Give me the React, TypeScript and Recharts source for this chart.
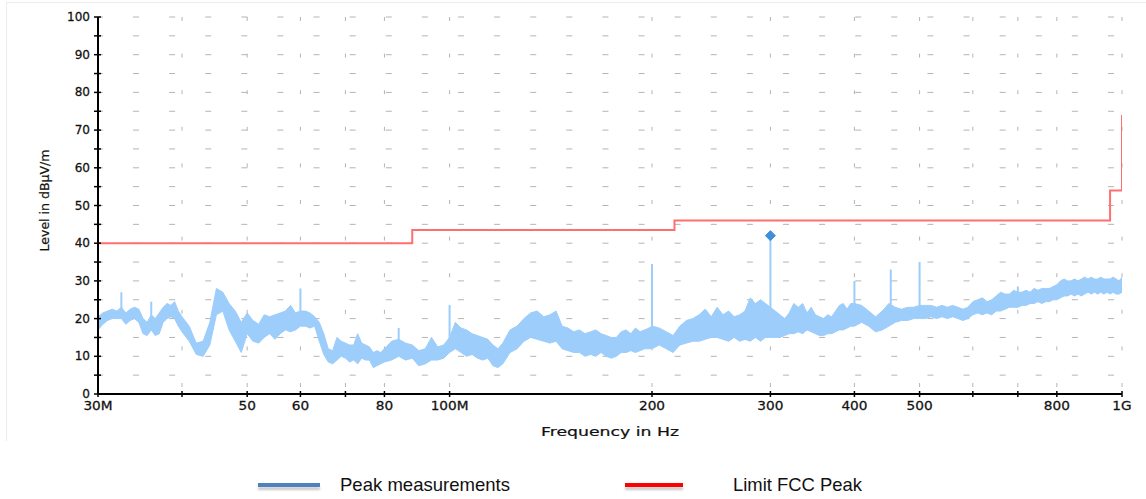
import React from 'react';
import { ComposedChart, Area, Line, Scatter, XAxis, YAxis, CartesianGrid } from 'recharts';

const peakFreqs = [
  30, 30.5, 31, 31.5, 32, 32.5, 33, 33.5, 34, 34.5, 35, 35.5, 36, 36.5, 37, 37.5, 38, 38.5, 39, 39.5, 40,
  41, 42, 43, 44, 45, 46, 47, 48, 49, 50, 51, 52, 53, 54, 55, 56, 57, 58, 59, 60,
  61, 62, 63, 64, 65, 66, 67, 68, 69, 70, 71, 72, 73, 74, 75, 76, 77, 78, 79, 80,
  82, 84, 86, 88, 90, 92, 94, 96, 98, 100, 102, 104, 106, 108, 110, 112, 114, 116, 118, 120,
  123, 126, 129, 132, 135, 138, 141, 144, 147, 150, 153, 156, 159, 162, 165, 168, 171, 174, 177, 180,
  183, 186, 189, 192, 195, 198, 200,
  205, 210, 215, 220, 225, 230, 235, 240, 245, 250, 255, 260, 265, 270, 275, 280, 285, 290, 295, 300,
  305, 310, 315, 320, 325, 330, 335, 340, 345, 350, 355, 360, 365, 370, 375, 380, 385, 390, 395, 400,
  410, 420, 430, 440, 450, 460, 470, 480, 490, 500, 510, 520, 530, 540, 550, 560, 570, 580, 590, 600,
  610, 620, 630, 640, 650, 660, 670, 680, 690, 700, 710, 720, 730, 740, 750, 760, 770, 780, 790, 800,
  810, 820, 830, 840, 850, 860, 870, 880, 890, 900, 910, 920, 930, 940, 950, 960, 970, 980, 990, 1000,
];
const peakLow = [
  17, 18.5, 19.5, 20, 20, 20, 18.5, 19.5, 20, 19, 16, 15.5, 17, 15.5, 16, 19, 20, 20.5, 20, 18, 16.5,
  14, 10.5, 10, 13, 21, 22, 17, 14, 11, 16, 14, 13.5, 15, 16, 14.5, 16, 17, 16.5, 17, 18,
  18, 17.5, 18, 14, 10.5, 8.5, 8, 9, 10, 9.5, 8.5, 9, 8, 9.5, 9, 9, 7, 7.5, 8, 8.5,
  9, 10, 9, 9.5, 7.5, 8, 9, 9, 9.5, 11, 12, 11, 10, 10.5, 9.5, 9, 9.5, 7.5, 7, 8,
  11, 12, 14, 15, 14.5, 14, 13.5, 14, 12, 11.5, 11, 11, 10, 10.5, 10, 11, 10, 9.5, 10, 11,
  11, 11.5, 11, 11.5, 12, 12, 12,
  13, 12, 11, 13, 13.5, 14, 14, 14.5, 15, 15, 14.5, 14, 15, 14, 14.5, 14, 15, 14, 15, 15,
  15, 15, 15.5, 16, 16, 16.5, 16, 17, 16.5, 16, 15.5, 15.5, 16, 16, 16.5, 17, 17, 17.5, 18, 18,
  19, 18, 16.5, 17, 18, 19, 19.5, 19.5, 20, 20, 20, 20.5, 20, 20.5, 20, 20.5, 20, 19.5, 20, 21,
  21.5, 21, 21.5, 21, 22, 22, 22.5, 23, 23, 23, 23.5, 23.5, 24, 24, 24.5, 24, 24.5, 24.5, 25, 25,
  25.5, 26, 26, 26.5, 26, 26.5, 26, 26.5, 27, 26.5, 27, 26.5, 27, 26.5, 27, 26.5, 27, 26.5, 26.5, 27,
];
const peakHigh = [
  20.5, 21.5, 22, 22.5, 22, 23, 21.5, 22.5, 23, 22.5, 20, 19, 21, 20, 21.5, 23, 24, 23.5, 24.5, 22, 20.5,
  18, 13.5, 14, 19, 28, 27, 24, 22, 19, 21.5, 19.5, 18.5, 21, 20.5, 21, 21.5, 22, 23.5, 21.5, 22,
  22, 21.5, 20.5, 19, 16, 12, 11.5, 15, 14, 13.5, 13, 13, 16, 13.5, 13, 12.5, 11, 11.5, 11, 12,
  14, 14.5, 13.5, 13, 11.5, 12, 15, 12.5, 13, 15, 19, 17.5, 17, 16, 15.5, 15, 14.5, 13, 12, 13.5,
  17, 18, 20, 21.5, 22, 20.5, 21, 22, 18, 17.5, 16.5, 17, 16, 16.5, 17, 16, 15.5, 15, 15, 16.5,
  17, 16, 17.5, 16.5, 17, 17.5, 18,
  17.5, 16.5, 15.5, 18, 19.5, 20, 21, 22.5, 20.5, 23, 21, 22, 20.5, 21, 22, 25.5, 24, 25, 24, 23,
  22, 21, 20, 21.5, 24, 23, 24, 21.5, 23, 21, 20.5, 20, 21, 20.5, 22, 23.5, 24, 22.5, 24, 24,
  23.5, 22, 20.5, 22, 24, 23, 22.5, 23, 23, 23.5, 23.5, 23.5, 23, 23.5, 23, 23.5, 23, 22.5, 23, 24.5,
  25, 25.5, 24.5, 25, 26, 27, 26.5, 26.5, 27.5, 27, 27, 27.5, 27, 28, 27.5, 28, 28, 28, 28.5, 29,
  30, 30.5, 30, 30, 30.5, 30, 30.5, 31, 30.5, 31, 30.5, 30.5, 31, 30.5, 30.5, 30.5, 31, 30.5, 30, 31,
];

// Narrow single-frequency spikes in the trace
const spikeFreqs = [32.5, 36, 60, 84, 100, 200, 300, 400, 453, 500, 700];
const spikeBase = [21, 20, 21, 13, 14, 17, 22, 22, 22, 22, 26];
const spikePeak = [27, 24.5, 28, 17.5, 23.6, 34.5, 42, 30, 33, 35, 28.5];

// FCC limit (stepped)
const limitFreqs = [30, 88, 88, 216, 216, 960, 960, 1000, 1000];
const limitLevels = [40, 40, 43.5, 43.5, 46, 46, 54, 54, 74];

// Marked peak
const markerFreqs = [300];
const markerLevels = [42];

// Axis ticks
const xTickValues = [30, 40, 50, 60, 70, 80, 100, 200, 300, 400, 500, 600, 700, 800, 1000];
const xTickLabels = ['30M', '', '50', '60', '', '80', '100M', '200', '300', '400', '500', '', '', '800', '1G'];
const yTickValues = [0, 5, 10, 15, 20, 25, 30, 35, 40, 45, 50, 55, 60, 65, 70, 75, 80, 85, 90, 95, 100];
const yTickLabels = ['0', '', '10', '', '20', '', '30', '', '40', '', '50', '', '60', '', '70', '', '80', '', '90', '', '100'];

const xTitle = 'Frequency in Hz';
const yTitle = 'Level in dBµV/m';

const legendNames = ['Peak measurements', 'Limit FCC Peak'];
const legendColors = ['#4f81bd', '#ff0000'];

// ---- derived tables for the library ----
const bandRows = peakFreqs.map((f, i) => ({ f, range: [peakLow[i], peakHigh[i]] }));
const spikeRows = spikeFreqs.flatMap((f, i) => [
  { f, v: spikeBase[i] },
  { f, v: spikePeak[i] },
  { f, v: null },
]);
const limitRows = limitFreqs.map((f, i) => ({ f, v: limitLevels[i] }));
const markerRows = markerFreqs.map((f, i) => ({ f, v: markerLevels[i] }));

const TRACE = '#9ccdfb';
const LIMIT = '#ff6f6f';
const FONT = '"DejaVu Sans", Verdana, sans-serif';

const X_TICK_SIZE = 4;
const X_TICK_MARGIN = 4;
const Y_TICK_SIZE = 4;
const Y_TICK_MARGIN = 1;

const XTick = (props: any) => {
  const { x, y, payload } = props;
  const idx = xTickValues.indexOf(payload.value);
  const label = idx >= 0 ? xTickLabels[idx] : '';
  const axisY = y - X_TICK_SIZE - X_TICK_MARGIN;
  return (
    <g>
      <line x1={x} x2={x} y1={axisY - 3} y2={axisY + 3} stroke="#000" strokeWidth={1.5} />
      {label ? (
        <text
          transform={`translate(${x},${y}) scale(1.19,1)`}
          textAnchor="middle"
          dy="0.71em"
          fontFamily={FONT}
          fontSize={11.5}
          fill="#111"
          stroke="#111"
          strokeWidth={0.25}
        >
          {label}
        </text>
      ) : null}
    </g>
  );
};

const YTick = (props: any) => {
  const { x, y, payload } = props;
  const idx = yTickValues.indexOf(payload.value);
  const label = idx >= 0 ? yTickLabels[idx] : '';
  const axisX = x + Y_TICK_SIZE + Y_TICK_MARGIN;
  return (
    <g>
      <line x1={axisX - 4} x2={axisX + 3} y1={y} y2={y} stroke="#000" strokeWidth={1.5} />
      {label ? (
        <text
          transform={`translate(${axisX - 8},${y}) scale(1.05,1)`}
          textAnchor="end"
          dy="0.355em"
          fontFamily={FONT}
          fontSize={11.5}
          fill="#111"
          stroke="#111"
          strokeWidth={0.25}
        >
          {label}
        </text>
      ) : null}
    </g>
  );
};

const XTitle = (props: any) => {
  const vb = props.viewBox || { x: 98, y: 394, width: 1024, height: 45 };
  const cx = vb.x + vb.width / 2;
  const cy = vb.y + 38;
  return (
    <text
      x={cx}
      y={cy}
      textAnchor="middle"
      dominantBaseline="central"
      fontFamily={FONT}
      fontSize={11.5}
      fill="#111"
      stroke="#111"
      strokeWidth={0.2}
      textLength={138}
      lengthAdjust="spacingAndGlyphs"
    >
      {xTitle}
    </text>
  );
};

const YTitle = (props: any) => {
  const vb = props.viewBox || { x: 38, y: 17, width: 60, height: 377 };
  const cx = vb.x + 7;
  const cy = vb.y + vb.height / 2 - 5;
  return (
    <text
      x={cx}
      y={cy}
      transform={`rotate(-90, ${cx}, ${cy})`}
      textAnchor="middle"
      dominantBaseline="central"
      fontFamily={FONT}
      fontSize={11.5}
      fill="#111"
      stroke="#111"
      strokeWidth={0.2}
      textLength={102}
      lengthAdjust="spacingAndGlyphs"
    >
      {yTitle}
    </text>
  );
};

const Diamond = (props: any) => {
  const { cx, cy } = props;
  if (cx == null || cy == null) return null;
  const r = 5;
  return (
    <polygon
      points={`${cx},${cy - r} ${cx + r},${cy} ${cx},${cy + r} ${cx - r},${cy}`}
      fill="#3d8fdc"
      stroke="#3d8fdc"
      strokeWidth={1}
    />
  );
};

export default function App() {
  return (
    <div
      style={{
        position: 'absolute',
        left: 0,
        top: 0,
        width: 1146,
        height: 499,
        background: '#fff',
        fontFamily: FONT,
        overflow: 'hidden',
      }}
    >
      <div
        style={{
          position: 'absolute',
          left: 6,
          top: 2,
          width: 1140,
          height: 438,
          borderTop: '1px solid #ececec',
          borderLeft: '1px solid #ececec',
        }}
      />
      <div style={{ position: 'absolute', left: 0, top: 0 }}>
        <ComposedChart
          width={1146}
          height={440}
          data={bandRows}
          margin={{ top: 17, right: 24, bottom: 1, left: 38 }}
        >
          <CartesianGrid
            vertical={false}
            stroke="#b4b4b4"
            strokeWidth={1}
            strokeDasharray="6 30.11"
            strokeDashoffset={1.1}
          />
          <CartesianGrid
            horizontal={false}
            stroke="#b4b4b4"
            strokeWidth={1}
            strokeDasharray="4 32.6"
          />
          <XAxis
            dataKey="f"
            type="number"
            scale="log"
            domain={[30, 1000]}
            allowDataOverflow
            ticks={xTickValues}
            interval={0}
            height={45}
            tickSize={X_TICK_SIZE}
            tickMargin={X_TICK_MARGIN}
            tickLine={false}
            axisLine={{ stroke: '#000', strokeWidth: 2 }}
            tick={XTick}
            label={XTitle}
          />
          <YAxis
            type="number"
            domain={[0, 100]}
            allowDataOverflow
            ticks={yTickValues}
            interval={0}
            width={60}
            tickSize={Y_TICK_SIZE}
            tickMargin={Y_TICK_MARGIN}
            tickLine={false}
            axisLine={{ stroke: '#000', strokeWidth: 2 }}
            tick={YTick}
            label={YTitle}
          />
          <Area
            dataKey="range"
            type="linear"
            stroke={TRACE}
            strokeWidth={1}
            fill={TRACE}
            fillOpacity={1}
            isAnimationActive={false}
            dot={false}
            activeDot={false}
          />
          <Line
            data={spikeRows}
            dataKey="v"
            type="linear"
            stroke={TRACE}
            strokeWidth={2}
            dot={false}
            activeDot={false}
            connectNulls={false}
            isAnimationActive={false}
          />
          <Line
            data={limitRows}
            dataKey="v"
            type="linear"
            stroke={LIMIT}
            strokeWidth={2}
            dot={false}
            activeDot={false}
            isAnimationActive={false}
          />
          <Scatter
            data={markerRows}
            dataKey="v"
            shape={Diamond}
            isAnimationActive={false}
          />
        </ComposedChart>
      </div>
      <svg
        width={1146}
        height={59}
        style={{ position: 'absolute', left: 0, top: 440 }}
      >
        <defs>
          <filter id="legShadow" x="-10%" y="-100%" width="120%" height="300%">
            <feGaussianBlur stdDeviation="1" />
          </filter>
        </defs>
        {legendNames.map((name, i) => {
          const sx = i === 0 ? 258 : 625;
          const sw = i === 0 ? 62 : 58;
          const tx = i === 0 ? 340 : 733;
          const tl = i === 0 ? 170 : 129;
          return (
            <g key={name}>
              <rect x={sx} y={47} width={sw} height={3} fill="#c8c8c8" filter="url(#legShadow)" />
              <rect x={sx} y={43} width={sw} height={4} fill={legendColors[i]} />
              <text
                x={tx}
                y={51}
                fontFamily='"Liberation Sans", Arial, sans-serif'
                fontSize={19}
                fill="#111"
                textLength={tl}
                lengthAdjust="spacingAndGlyphs"
              >
                {name}
              </text>
            </g>
          );
        })}
      </svg>
    </div>
  );
}
